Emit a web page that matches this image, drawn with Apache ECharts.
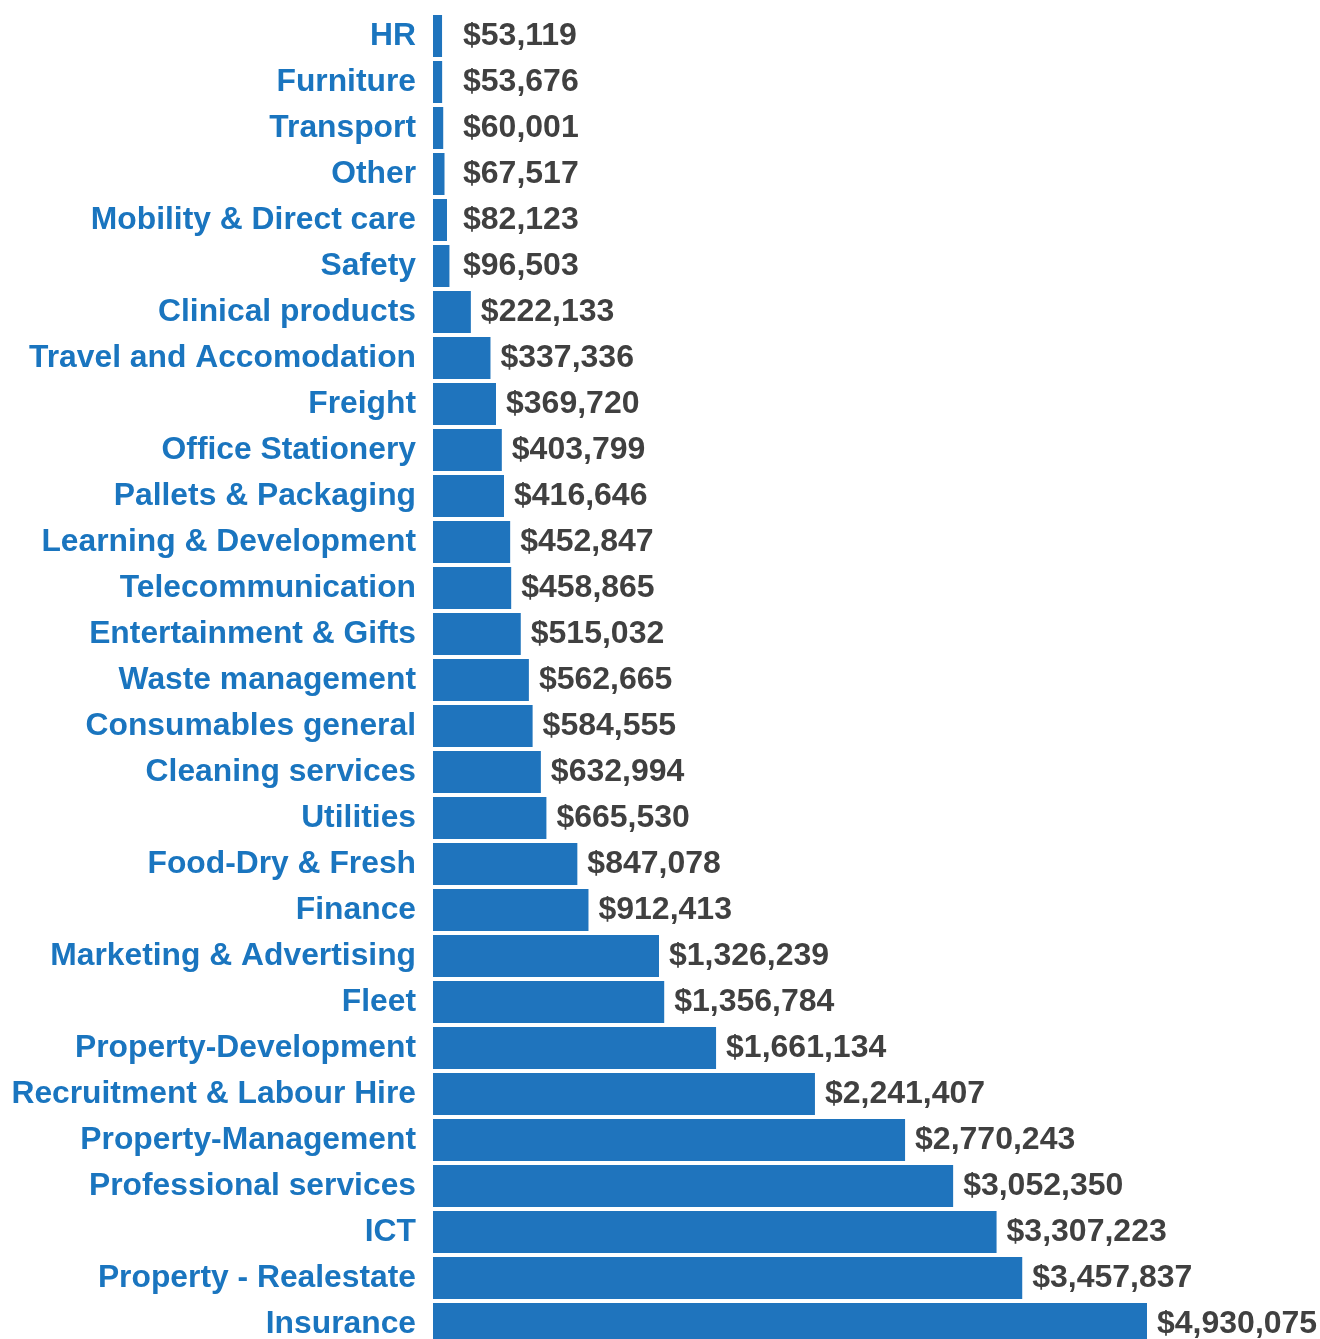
<!DOCTYPE html>
<html>
<head>
<meta charset="utf-8">
<script src="https://cdn.jsdelivr.net/npm/echarts@6/dist/echarts.min.js"></script>
<style>
html,body{margin:0;padding:0;background:#fff;}
#chart{width:1320px;height:1339px;}
</style>
</head>
<body>
<div id="chart"></div>
<script>
const categories = [
  "HR","Furniture","Transport","Other","Mobility & Direct care","Safety",
  "Clinical products","Travel and Accomodation","Freight","Office Stationery",
  "Pallets & Packaging","Learning & Development","Telecommunication",
  "Entertainment & Gifts","Waste management","Consumables general",
  "Cleaning services","Utilities","Food-Dry & Fresh","Finance",
  "Marketing & Advertising","Fleet","Property-Development",
  "Recruitment & Labour Hire","Property-Management","Professional services",
  "ICT","Property - Realestate","Insurance"
];
const spend = [
  53119,53676,60001,67517,82123,96503,
  222133,337336,369720,403799,
  416646,452847,458865,
  515032,562665,584555,
  632994,665530,847078,912413,
  1326239,1356784,1661134,
  2241407,2770243,3052350,
  3307223,3457837,4930075
];
const axisMax = 4190000;

const chart = echarts.init(document.getElementById('chart'));
const fmt = v => '$' + v.toLocaleString('en-US');

function buildOption(distances) {
  return {
    animation: false,
    grid: { left: 433, width: 714, top: 13, height: 1334, containLabel: false, outerBoundsMode: 'none' },
    xAxis: {
      type: 'value', min: 0, max: axisMax, show: false
    },
    yAxis: {
      type: 'category', data: categories, inverse: true,
      axisLine: { show: false }, axisTick: { show: false },
      axisLabel: {
        margin: 17, color: '#1a75bf', fontSize: 31.8, fontWeight: 'bold',
        fontFamily: 'Liberation Sans, Arial, sans-serif',
        padding: [8, 0, 0, 0]
      },
      splitLine: { show: false }
    },
    series: [{
      type: 'bar',
      barCategoryGap: '8.7%',
      clip: true,
      itemStyle: { color: '#1f74bd' },
      label: {
        show: true, position: 'right', distance: 10,
        color: '#404040', fontSize: 32, fontWeight: 'bold',
        fontFamily: 'Liberation Sans, Arial, sans-serif',
        padding: [8, 0, 0, 0],
        formatter: p => fmt(p.value)
      },
      data: spend.map((v, i) => distances ? { value: v, label: { distance: distances[i] } } : v)
    }]
  };
}

chart.setOption(buildOption(null));
const gridLeftPx = chart.convertToPixel({ gridIndex: 0 }, [0, 0])[0];
const gridRightPx = chart.convertToPixel({ gridIndex: 0 }, [axisMax, 0])[0];
const distances = spend.map((v, i) => {
  let px = chart.convertToPixel({ gridIndex: 0 }, [v, i])[0];
  px = Math.min(px, gridRightPx);
  const minEnd = gridLeftPx + 20;
  return 10 + Math.max(0, minEnd - px);
});
chart.setOption(buildOption(distances));
</script>
</body>
</html>
